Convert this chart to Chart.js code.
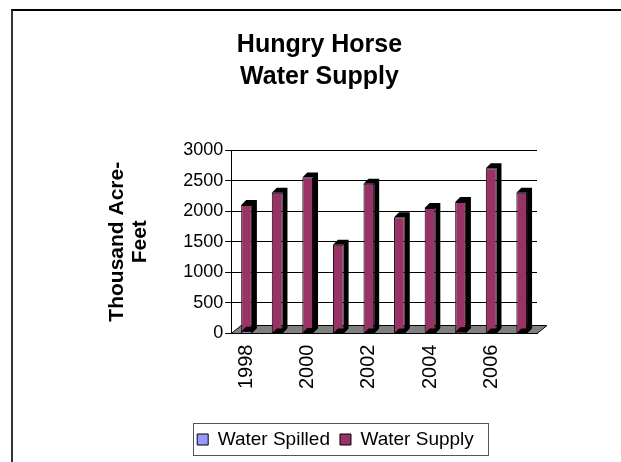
<!DOCTYPE html>
<html>
<head>
<meta charset="utf-8">
<script src="https://cdn.jsdelivr.net/npm/chart.js@4.4.0/dist/chart.umd.min.js"></script>
<style>
  html, body { margin: 0; padding: 0; background: #fff; overflow: hidden; }
  #wrap { position: relative; width: 621px; height: 462px; }
  #frame {
    position: absolute; left: 11px; top: 9px; width: 700px; height: 500px;
    border-top: 2px solid #000; border-left: 2px solid #333;
  }
  canvas { position: absolute; left: 0; top: 0; }
</style>
</head>
<body>
<div id="wrap">
  <div id="frame"></div>
  <canvas id="chart" width="621" height="462"></canvas>
</div>
<script>
const years = ['1998', '1999', '2000', '2001', '2002', '2003', '2004', '2005', '2006', '2007'];
const waterSpilled = [30, 0, 10, 0, 0, 0, 0, 20, 0, 0];
const waterSupply = [2100, 2300, 2550, 1450, 2450, 1900, 2050, 2150, 2700, 2300];
const yTicks = [0, 500, 1000, 1500, 2000, 2500, 3000];

const FONT = "'Liberation Sans', Arial, sans-serif";
const LEGEND_SHIFT = 16;

// fake 3d: black side + top face on every bar, grey floor, legend frame
const depthPlugin = {
  id: 'depth',
  beforeDraw(chart) {
    const lg = chart.legend;
    if (!lg || lg._shifted) return;
    lg._shifted = true;
    lg.left += LEGEND_SHIFT;
    lg.right += LEGEND_SHIFT;
    lg.legendHitBoxes.forEach((b) => { b.left += LEGEND_SHIFT; });
  },
  beforeDatasetsDraw(chart) {
    const { ctx, chartArea } = chart;
    ctx.save();
    ctx.fillStyle = '#808080';
    ctx.strokeStyle = '#000';
    ctx.lineWidth = 1;
    ctx.beginPath();
    ctx.moveTo(chartArea.left, chartArea.bottom);
    ctx.lineTo(chartArea.left + 10, chartArea.bottom - 8);
    ctx.lineTo(chartArea.right + 10, chartArea.bottom - 8);
    ctx.lineTo(chartArea.right, chartArea.bottom);
    ctx.closePath();
    ctx.fill();
    ctx.stroke();
    ctx.restore();
  },
  afterDatasetsDraw(chart) {
    const { ctx } = chart;
    const d = 5;
    ctx.save();
    ctx.fillStyle = '#000';
    chart.data.datasets.forEach((ds, i) => {
      chart.getDatasetMeta(i).data.forEach((bar) => {
        const half = bar.width / 2;
        const l = bar.x - half, r = bar.x + half;
        const t = Math.min(bar.y, bar.base), b = Math.max(bar.y, bar.base);
        ctx.beginPath();
        ctx.moveTo(l, t);
        ctx.lineTo(l + d, t - d);
        ctx.lineTo(r + d, t - d);
        ctx.lineTo(r + d, b - d);
        ctx.lineTo(r, b);
        ctx.lineTo(r, t);
        ctx.closePath();
        ctx.fill();
      });
    });
    ctx.restore();
  },
  afterDraw(chart) {
    const lg = chart.legend;
    if (!lg || !lg.legendHitBoxes.length) return;
    const boxes = lg.legendHitBoxes;
    const x0 = Math.min(...boxes.map((b) => b.left)) - 4;
    const x1 = Math.max(...boxes.map((b) => b.left + b.width)) + 14;
    const y0 = Math.min(...boxes.map((b) => b.top)) - 7;
    const y1 = Math.max(...boxes.map((b) => b.top + b.height)) + 6;
    const ctx = chart.ctx;
    ctx.save();
    ctx.strokeStyle = '#555';
    ctx.lineWidth = 1;
    ctx.strokeRect(Math.round(x0) + 0.5, Math.round(y0) + 0.5, Math.round(x1 - x0), Math.round(y1 - y0));
    ctx.restore();
  }
};

new Chart(document.getElementById('chart').getContext('2d'), {
  type: 'bar',
  data: {
    labels: years,
    datasets: [
      {
        label: 'Water Spilled',
        data: waterSpilled,
        backgroundColor: '#9999FF',
        borderColor: '#000',
        borderWidth: 1,
        grouped: false,
        order: 0,
      },
      {
        label: 'Water Supply',
        data: waterSupply,
        backgroundColor: '#993366',
        borderColor: '#000',
        borderWidth: 1,
        grouped: false,
        order: 1,
      },
    ],
  },
  options: {
    responsive: false,
    animation: false,
    devicePixelRatio: 1,
    barPercentage: 0.35,
    categoryPercentage: 1,
    layout: { padding: { left: 102, right: 84, top: 20, bottom: 3 } },
    plugins: {
      title: {
        display: true,
        text: ['Hungry Horse', 'Water Supply'],
        color: '#000',
        font: { family: FONT, size: 25, weight: 'bold', lineHeight: 1.28 },
        padding: { top: 9, bottom: 57 },
      },
      legend: {
        position: 'bottom',
        labels: {
          color: '#000',
          font: { family: FONT, size: 19 },
          boxWidth: 11,
          boxHeight: 11,
          padding: 10,
        },
      },
      tooltip: { enabled: false },
    },
    scales: {
      x: {
        grid: { display: false },
        border: { color: '#000' },
        afterFit: (axis) => { axis.height += 28; },
        ticks: {
          color: '#000',
          font: { family: FONT, size: 20 },
          maxRotation: 90,
          minRotation: 90,
          autoSkip: false,
          callback: (v, i) => (i % 2 === 0 ? years[i] : ''),
        },
      },
      y: {
        min: 0,
        max: 3000,
        afterBuildTicks: (axis) => { axis.ticks = yTicks.map((v) => ({ value: v })); },
        grid: { color: '#000', lineWidth: 1, tickLength: 6 },
        border: { color: '#000' },
        ticks: {
          color: '#000',
          font: { family: FONT, size: 18 },
          padding: 2,
          callback: (v) => String(v),
        },
        title: {
          display: true,
          text: ['Thousand Acre-', 'Feet'],
          color: '#000',
          font: { family: FONT, size: 21, weight: 'bold', lineHeight: 1.1 },
          padding: { top: 4, bottom: 29 },
        },
      },
    },
  },
  plugins: [depthPlugin],
});
</script>
</body>
</html>
